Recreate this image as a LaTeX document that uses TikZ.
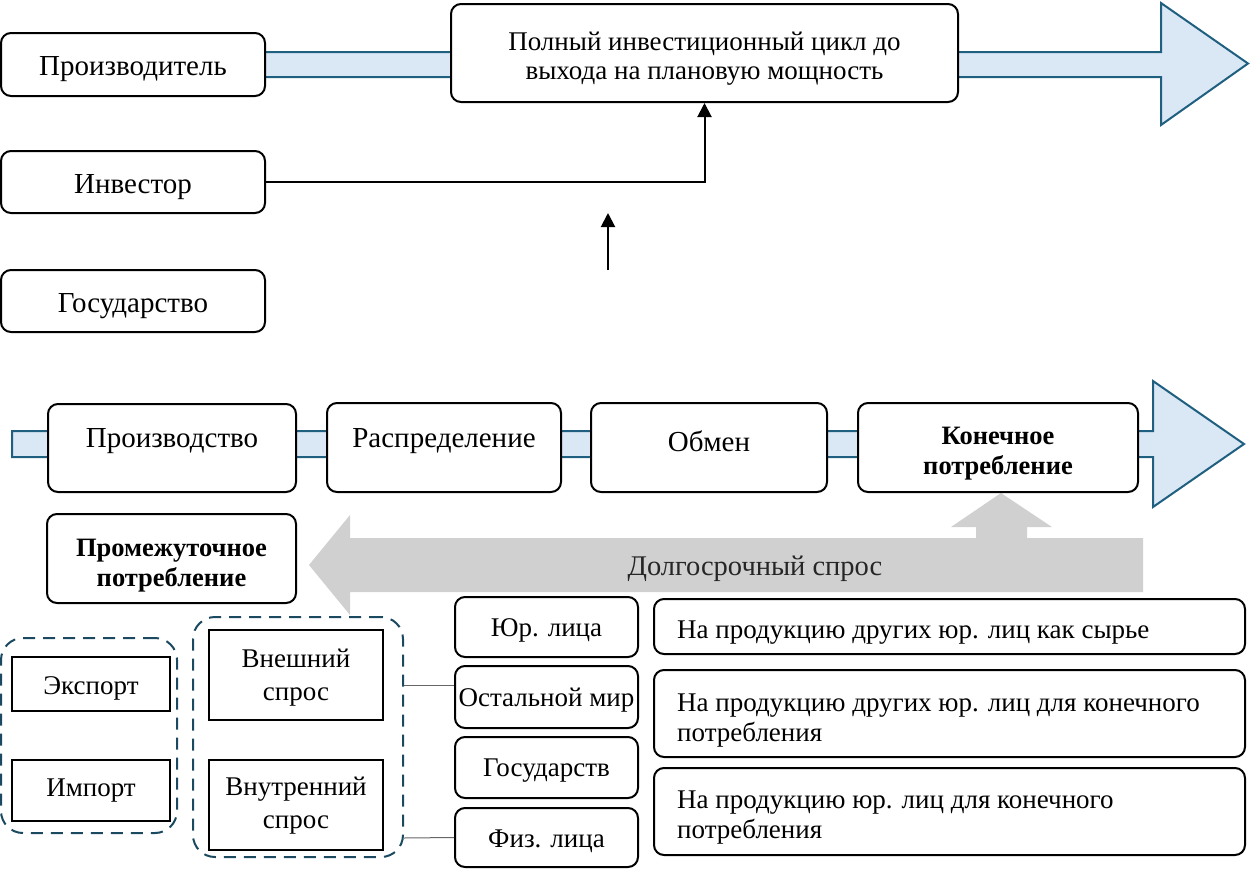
\documentclass[tikz,border=0pt]{standalone}
\usepackage{fontspec}
\setmainfont{Liberation Serif}
\usetikzlibrary{arrows.meta}
\definecolor{bandfill}{HTML}{DAE8F5}
\definecolor{bandline}{HTML}{1F5F7F}
\definecolor{dashcol}{HTML}{1B4A60}
\definecolor{greyarr}{HTML}{D0D0D0}
\tikzset{
  rbox/.style={draw=black, line width=2pt, rounded corners=10pt, fill=white, inner sep=0pt},
  sbox/.style={draw=black, line width=2.2pt, fill=white, inner sep=0pt},
  stxt/.style={inner sep=0pt, align=center, font=\fontsize{27}{33}\selectfont},
  dbox/.style={draw=dashcol, line width=2pt, dash pattern=on 12pt off 8pt, rounded corners=22pt, inner sep=0pt},
  txt/.style={inner sep=0pt, align=center, font=\fontsize{29}{30}\selectfont},
  ctxt/.style={inner sep=0pt, align=center, font=\fontsize{27}{30}\selectfont},
  mtxt/.style={inner sep=0pt, align=center, font=\fontsize{27}{29}\selectfont},
  btxt/.style={inner sep=0pt, align=center, font=\fontsize{26.5}{30}\selectfont\bfseries},
  ltxt/.style={inner sep=0pt, align=left, anchor=west, font=\fontsize{27}{30}\selectfont},
  band/.style={fill=bandfill, draw=bandline, line width=2pt, line join=miter},
  conn/.style={draw=black, line width=2pt, -{Triangle[width=14pt,length=14pt]}},
  thin/.style={draw=gray!80!black, line width=1pt}
}
\begin{document}
\begin{tikzpicture}[x=1pt,y=-1pt]
\useasboundingbox (0,0) rectangle (1251,871);
% bands
\draw[band] (265,52) -- (1161,52) -- (1161,3) -- (1248,63.5) -- (1161,125) -- (1161,77) -- (265,77);
\draw[band] (12,431) -- (1153,431) -- (1153,381) -- (1244,444) -- (1153,507) -- (1153,457) -- (12,457) -- cycle;
% grey arrow
\fill[greyarr] (1143,538) -- (1027,538) -- (1027,527) -- (1052,527) -- (1001,493) -- (951,527) -- (976,527) -- (976,538)
  -- (350,538) -- (350,515) -- (309,565) -- (350,615) -- (350,592) -- (1143,592) -- cycle;
\node[inner sep=0pt, font=\fontsize{28.5}{30}\selectfont, text=black!85] (ls) at (755,569) {Долгосрочный спрос};
% top
\node[rbox, minimum width=264pt, minimum height=63pt] (prod) at (133,64.5) {};
\node[txt] (prodt) at (133,69.5) {Производитель};
\node[rbox, minimum width=264pt, minimum height=62pt] (inv) at (133,182) {};
\node[txt] (invt) at (133,187) {Инвестор};
\node[rbox, minimum width=264pt, minimum height=62pt] (gos) at (133,301) {};
\node[txt] (gost) at (133,306) {Государство};
\node[rbox, minimum width=507pt, minimum height=98pt] (cyc) at (704.5,53) {};
\node[mtxt] (cyct) at (704.5,58.5) {Полный инвестиционный цикл до\\выхода на плановую мощность};
\draw[conn] (inv.east) -| (cyc.south);
\coordinate (fa) at (608,270);
\coordinate (fb) at (608,213);
\draw[conn] (fa) -- (fb);
% bottom row
\node[rbox, minimum width=248pt, minimum height=88pt] (pr) at (172,448) {};
\node[txt] (prt) at (172,441) {Производство};
\node[rbox, minimum width=234pt, minimum height=89pt] (ras) at (444,447.5) {};
\node[txt] (rast) at (444,441) {Распределение};
\node[rbox, minimum width=236pt, minimum height=89pt] (obm) at (709,447.5) {};
\node[txt] (obmt) at (709,441) {Обмен};
\node[rbox, minimum width=280pt, minimum height=89pt] (kon) at (998,447.5) {};
\node[btxt] (kont) at (998,454) {Конечное\\потребление};
\node[rbox, minimum width=249pt, minimum height=89pt] (prom) at (171.5,558.5) {};
\node[btxt] (promt) at (171.5,566) {Промежуточное\\потребление};
% dashed groups
\node[dbox, minimum width=176pt, minimum height=195pt] (g1) at (89,735.5) {};
\node[sbox, minimum width=158pt, minimum height=54pt] (exp) at (91,684) {};
\node[stxt] (expt) at (91,688) {Экспорт};
\node[sbox, minimum width=158pt, minimum height=61pt] (imp) at (91,790.5) {};
\node[stxt] (impt) at (91,791) {Импорт};
\node[dbox, minimum width=210pt, minimum height=240pt] (g2) at (298,737) {};
\node[sbox, minimum width=174pt, minimum height=90pt] (vne) at (296,675) {};
\node[stxt] (vnet) at (296,678) {Внешний\\спрос};
\node[sbox, minimum width=174pt, minimum height=90pt] (vnu) at (296,805) {};
\node[stxt] (vnut) at (296,806) {Внутренний\\спрос};
% right column
\node[rbox, minimum width=183pt, minimum height=60pt] (yur) at (546.5,627) {};
\node[ctxt] (yurt) at (546.5,630) {Юр. лица};
\node[rbox, minimum width=183pt, minimum height=62pt] (ost) at (546.5,697) {};
\node[ctxt] (ostt) at (546.5,700) {Остальной мир};
\node[rbox, minimum width=183pt, minimum height=61pt] (gst) at (546.5,767.5) {};
\node[ctxt] (gstt) at (546.5,770.5) {Государств};
\node[rbox, minimum width=183pt, minimum height=59pt] (fiz) at (546.5,837.5) {};
\node[ctxt] (fizt) at (546.5,841.5) {Физ. лица};
\draw[thin] (g2.east |- 0,685) -- ([yshift=12pt]ost.west);
\draw[thin] (g2.east |- 0,838) -- (fiz.west);
% right text boxes
\node[rbox, minimum width=591pt, minimum height=55pt] (r1) at (949.5,626.5) {};
\node[ltxt] (r1t) at (677,633) {На продукцию других юр. лиц как сырье};
\node[rbox, minimum width=591pt, minimum height=87pt] (r2) at (949.5,713.5) {};
\node[ltxt] (r2t) at (677,721) {На продукцию других юр. лиц для конечного\\потребления};
\node[rbox, minimum width=591pt, minimum height=87pt] (r3) at (949.5,811.5) {};
\node[ltxt] (r3t) at (677,818) {На продукцию юр. лиц для конечного\\потребления};
\end{tikzpicture}
\end{document}
